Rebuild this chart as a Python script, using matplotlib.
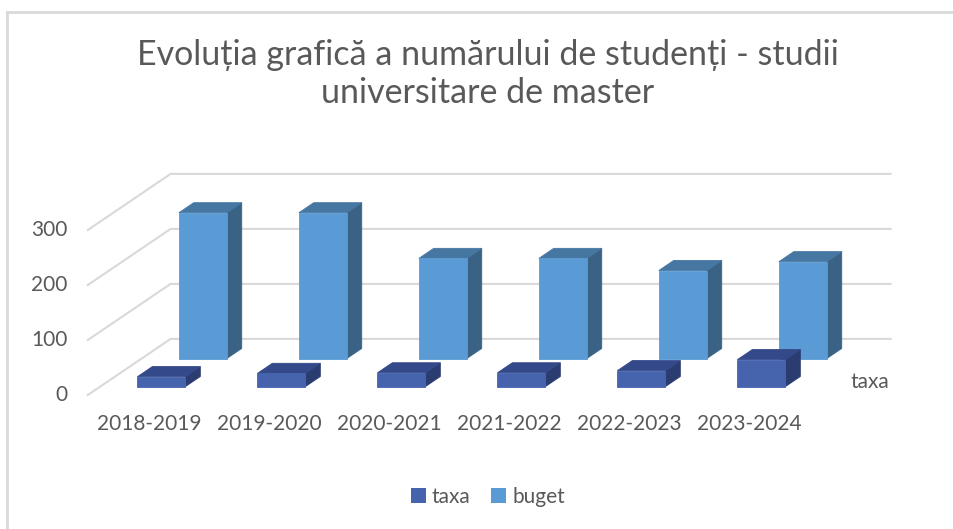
import numpy as np
import matplotlib.pyplot as plt
from matplotlib.patches import Polygon, Patch

plt.rcParams['font.family'] = ['Lato', 'DejaVu Sans']

ani = ["2018-2019", "2019-2020", "2020-2021", "2021-2022", "2022-2023", "2023-2024"]
taxa = [18, 24, 25, 25, 29, 49]
buget = [265, 265, 182, 182, 160, 176]
yticks = [0, 100, 200, 300]

# oblique "3d" projection: depth d in [0, 1] shifts right and up
DX = 0.69
DY = 102.0
W = 0.4
DEPTH = 0.18

def proj(x, v, d):
    return (x + d * DX, v + d * DY)

def bar3d(ax, x, h, d0, front, top, side):
    d1 = d0 + DEPTH
    xl, xr = x - W / 2, x + W / 2
    f = [proj(xl, 0, d0), proj(xr, 0, d0), proj(xr, h, d0), proj(xl, h, d0)]
    t = [proj(xl, h, d0), proj(xr, h, d0), proj(xr, h, d1), proj(xl, h, d1)]
    s = [proj(xr, 0, d0), proj(xr, 0, d1), proj(xr, h, d1), proj(xr, h, d0)]
    for pts, c in [(s, side), (t, top), (f, front)]:
        ax.add_patch(Polygon(pts, closed=True, facecolor=c, edgecolor=c, lw=0.6, zorder=3))

fig = plt.figure(figsize=(9.54, 5.29), dpi=100)
ax = fig.add_axes([0, 0, 1, 1])
ax.set_xlim(-149 / 120, 805 / 120)
ax.set_ylim((395 - 529) / 0.55, 395 / 0.55)
ax.axis("off")

# outer frame
fig.add_artist(plt.Line2D([7.5 / 954, 7.5 / 954], [0, 1 - 12 / 529], color="#d9d9d9", lw=2))
fig.add_artist(plt.Line2D([7.5 / 954, 1], [1 - 12 / 529, 1 - 12 / 529], color="#d9d9d9", lw=2))

x = np.arange(len(ani))
x0, x1 = -0.51, len(ani) - 0.51
grid = "#d9d9d9"
fs = 15
for v in yticks:
    a = (x0, v)
    b = proj(x0, v, 1)
    c = proj(x1, v, 1)
    ax.plot([a[0], b[0], c[0]], [a[1], b[1], c[1]], color=grid, lw=1.5, zorder=1)
    ax.text(x0 - 0.17, v, str(v), ha="right", va="center", fontsize=fs, color="#595959")

for i in x:
    bar3d(ax, i, buget[i], 0.65, "#5b9bd5", "#4677a3", "#3a6285")
for i in x:
    bar3d(ax, i, taxa[i], 0.15, "#4664ae", "#34498a", "#2b3c70")

for i in x:
    ax.text(i, -52, ani[i], ha="center", va="center", fontsize=fs, color="#595959")

ax.text(5.85, 24, "taxa", ha="left", va="center", fontsize=fs, color="#595959")

fig.text(488 / 954, 1 - 74 / 529, "Evoluția grafică a numărului de studenți - studii\nuniversitare de master",
         ha="center", va="center", fontsize=24.5, color="#595959", linespacing=1.2)

handles = [Patch(facecolor="#4664ae", label="taxa"), Patch(facecolor="#5b9bd5", label="buget")]
fig.legend(handles=handles, loc="center", bbox_to_anchor=(488 / 954, 1 - 497 / 529), ncol=2,
           frameon=False, handlelength=0.7, handleheight=0.7, handletextpad=0.3,
           columnspacing=1.0, fontsize=fs, labelcolor="#595959")

fig.savefig("out.png", dpi=100)
